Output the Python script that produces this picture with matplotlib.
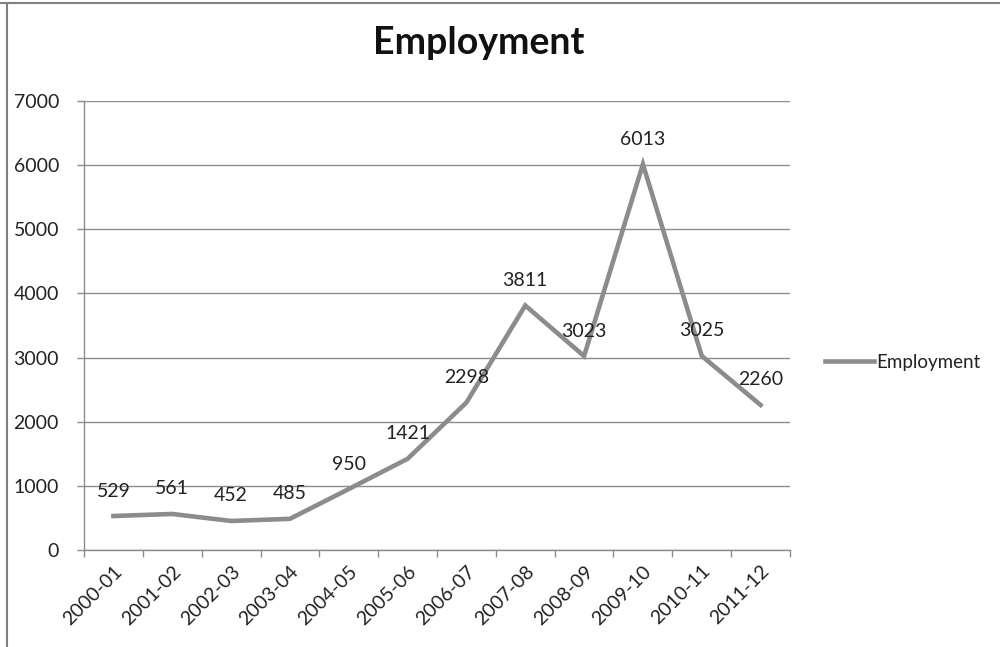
import matplotlib.pyplot as plt
from matplotlib.lines import Line2D
import numpy as np

years = ['2000-01', '2001-02', '2002-03', '2003-04', '2004-05', '2005-06',
         '2006-07', '2007-08', '2008-09', '2009-10', '2010-11', '2011-12']
employment = [529, 561, 452, 485, 950, 1421, 2298, 3811, 3023, 6013, 3025, 2260]
yticks = [0, 1000, 2000, 3000, 4000, 5000, 6000, 7000]

grey = '#8c8c8c'
txt = '#222222'
plt.rcParams['font.family'] = ['Lato', 'DejaVu Sans']

fig = plt.figure(figsize=(10, 6.47), dpi=100)
ax = fig.add_axes([0.084, 0.150, 0.706, 0.694])

x = np.arange(len(years))
ax.plot(x, employment, color=grey, lw=3.3, solid_joinstyle='miter', label='Employment')

for xi, v in zip(x, employment):
    ax.annotate(str(v), (xi, v), xytext=(0, 18), textcoords='offset points',
                ha='center', va='center', fontsize=14, color=txt)

ax.set_xlim(-0.5, len(years) - 0.5)
ax.set_ylim(0, 7000)
ax.set_yticks(yticks)
ax.set_yticklabels([str(t) for t in yticks], fontsize=14, color=txt)
ax.yaxis.grid(True, color=grey, lw=1)
ax.set_axisbelow(True)

# category labels under centres, tick marks at boundaries
ax.set_xticks(x)
ax.set_xticklabels(years, rotation=45, ha='right', rotation_mode='anchor',
                   fontsize=14, color=txt)
ax.tick_params(axis='x', length=0, pad=9)
ax.set_xticks(np.arange(-0.5, len(years)), minor=True)
ax.tick_params(axis='x', which='minor', length=5, color=grey, width=1)
ax.tick_params(axis='y', length=5, color=grey, width=1, pad=13)

for s in ['top', 'right']:
    ax.spines[s].set_visible(False)
for s in ['left', 'bottom']:
    ax.spines[s].set_color(grey)
    ax.spines[s].set_linewidth(1)

fig.text(0.479, 0.933, 'Employment', ha='center', va='center',
         fontsize=27, fontweight='bold', color='#111111')

leg = ax.legend(loc='center left', bbox_to_anchor=(0.808, 0.44),
                bbox_transform=fig.transFigure, frameon=False,
                fontsize=13.5, handlelength=2.6, handletextpad=0.15)
for t in leg.get_texts():
    t.set_color(txt)

# outer chart border
fig.add_artist(Line2D([0, 1], [0.995, 0.995], color='#808080', lw=1.5))
fig.add_artist(Line2D([0.007, 0.007], [0, 0.995], color='#808080', lw=1.5))

fig.savefig('out.png', dpi=100)
